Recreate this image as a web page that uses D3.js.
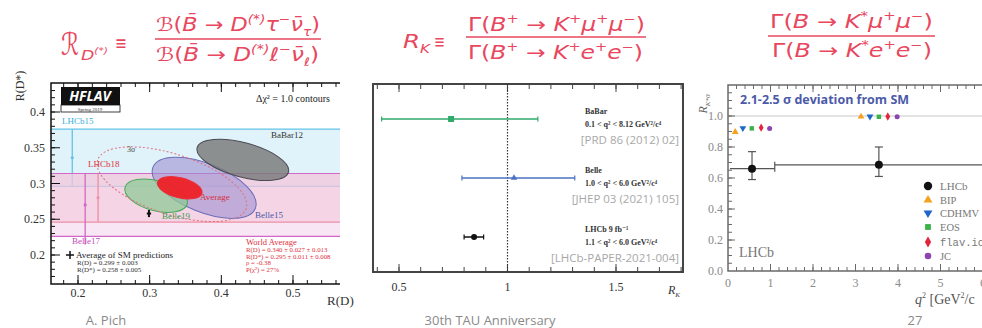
<!DOCTYPE html>
<html>
<head>
<meta charset="utf-8">
<script src="https://cdn.jsdelivr.net/npm/d3@7"></script>
<style>
  body { margin: 0; background: #fff; }
  svg { display: block; }
</style>
</head>
<body>
<div id="slide"></div>
<script>
// ---------- data ----------
// left: R(D) vs R(D*) (HFLAV spring 2019)
const rdTicks = [0.2, 0.3, 0.4, 0.5];
const rdsTicks = [0.2, 0.25, 0.3, 0.35, 0.4];
const bandNames = ["LHCb15", "LHCb18", "Belle17"];
const bandCenter = [0.336, 0.280, 0.270];
const bandErr = [0.040, 0.034, 0.044];
const bandRD = [0.192, 0.228, 0.210];      // x where the R(D*)-only result is drawn
const ellNames = ["Belle15", "Belle19", "BaBar12", "Average", "3σ"];
const ellRD = [0.376, 0.309, 0.430, 0.342, 0.331];
const ellRDs = [0.294, 0.283, 0.333, 0.294, 0.299];
const ellA = [0.077, 0.045, 0.066, 0.032, 0.109];
const ellB = [0.034, 0.021, 0.024, 0.014, 0.042];
const ellAngle = [22, 15, 15, 14, 18];
const smRD = 0.299, smRDerr = 0.003, smRDs = 0.258, smRDserr = 0.005;

// middle: R_K results
const rkTicks = [0.5, 1, 1.5];
const rkExp = ["BaBar", "Belle", "LHCb"];
const rkVal = [0.74, 1.03, 0.846];
const rkLo = [0.42, 0.79, 0.80];
const rkHi = [1.14, 1.31, 0.89];
const rkRange = ["0.1 < q² < 8.12 GeV²/c⁴", "1.0 < q² < 6.0 GeV²/c⁴", "1.1 < q² < 6.0 GeV²/c⁴"];
const rkRef = ["[PRD 86 (2012) 02]", "[JHEP 03 (2021) 105]", "[LHCb-PAPER-2021-004]"];

// right: R_K*0 vs q2
const q2Ticks = [0, 1, 2, 3, 4, 5, 6];
const rksTicks = [0, 0.2, 0.4, 0.6, 0.8, 1.0];
const binLo = [0.045, 1.1];
const binHi = [1.1, 6.0];
const lhcbQ2 = [0.565, 3.55];
const lhcbVal = [0.66, 0.685];
const lhcbUp = [0.11, 0.115];
const lhcbDn = [0.07, 0.075];
const smNames = ["BIP", "CDHMV", "EOS", "flav.io", "JC"];
const smQ2 = [[0.17, 0.35, 0.56, 0.78, 0.98], [3.13, 3.34, 3.55, 3.76, 3.98]];
const smVal = [[0.897, 0.922, 0.92, 0.925, 0.92], [0.996, 0.997, 0.995, 0.997, 0.995]];

// ---------- drawing ----------
const W = 982, H = 328;
const RED = "#e8475e";
const SERIF = "'Liberation Serif', 'DejaVu Serif', serif";
const SANS = "'Open Sans', 'DejaVu Sans', sans-serif";

const svg = d3.select("#slide").append("svg")
    .attr("width", W).attr("height", H)
    .style("background", "#fff");

// formula helper: segments [text, kind] with kind "", "i", "sup", "sub"
function mathLine(x, y, width, size, segs) {
    const t = svg.append("text")
        .attr("x", x).attr("y", y)
        .attr("font-size", size)
        .attr("font-family", "'DejaVu Sans', sans-serif")
        .attr("fill", RED);
    let shift = 0;
    segs.forEach(([s, kind]) => {
        const target = kind === "sup" ? -size * 0.42 : kind === "sub" ? size * 0.28 : 0;
        const ts = t.append("tspan").text(s).attr("dy", target - shift);
        shift = target;
        if (kind === "sup" || kind === "sub") ts.attr("font-size", size * 0.62);
        if (kind !== "") ts.attr("font-style", "italic");
    });
    t.attr("textLength", width).attr("lengthAdjust", "spacingAndGlyphs");
    return t;
}
function fracBar(x1, x2, y) {
    svg.append("line").attr("x1", x1).attr("x2", x2).attr("y1", y).attr("y2", y)
        .attr("stroke", RED).attr("stroke-width", 1.6);
}

// formula 1
mathLine(61, 55, 18, 31, [["ℛ", ""]]);
mathLine(81, 60, 27, 14, [["D", "i"], ["(*)", "sup"]]);
mathLine(115, 50, 12, 20, [["≡", ""]]);
mathLine(156, 31, 164, 19, [["ℬ(", ""], ["B̄", "i"], [" → ", ""], ["D", "i"], ["(*)", "sup"], ["τ", "i"], ["−", "sup"], ["ν̄", "i"], ["τ", "sub"], [")", ""]]);
fracBar(155, 321, 39);
mathLine(156, 61, 163, 19, [["ℬ(", ""], ["B̄", "i"], [" → ", ""], ["D", "i"], ["(*)", "sup"], ["ℓ", "i"], ["−", "sup"], ["ν̄", "i"], ["ℓ", "sub"], [")", ""]]);

// formula 2
mathLine(403, 48, 27, 19, [["R", "i"], ["K", "sub"]]);
mathLine(434, 48, 11, 19, [["≡", ""]]);
mathLine(468, 31, 177, 19, [["Γ(", ""], ["B", "i"], ["+", "sup"], [" → ", ""], ["K", "i"], ["+", "sup"], ["μ", "i"], ["+", "sup"], ["μ", "i"], ["−", "sup"], [")", ""]]);
fracBar(466, 646, 37);
mathLine(468, 59, 175, 19, [["Γ(", ""], ["B", "i"], ["+", "sup"], [" → ", ""], ["K", "i"], ["+", "sup"], ["e", "i"], ["+", "sup"], ["e", "i"], ["−", "sup"], [")", ""]]);

// formula 3
mathLine(770, 28, 163, 19, [["Γ(", ""], ["B", "i"], [" → ", ""], ["K", "i"], ["*", "sup"], ["μ", "i"], ["+", "sup"], ["μ", "i"], ["−", "sup"], [")", ""]]);
fracBar(768, 935, 36);
mathLine(772, 57, 160, 19, [["Γ(", ""], ["B", "i"], [" → ", ""], ["K", "i"], ["*", "sup"], ["e", "i"], ["+", "sup"], ["e", "i"], ["−", "sup"], [")", ""]]);

// generic inward ticks
function ticksX(g, scale, majors, minors, yTop, yBot, col, majLen, minLen, xMin, xMax) {
    const all = minors.map(v => [v, minLen]).concat(majors.map(v => [v, majLen]));
    all.forEach(([v, len]) => {
        const x = scale(v);
        if (x < xMin || x > xMax) return;
        g.append("line").attr("x1", x).attr("x2", x).attr("y1", yBot).attr("y2", yBot - len).attr("stroke", col);
        g.append("line").attr("x1", x).attr("x2", x).attr("y1", yTop).attr("y2", yTop + len).attr("stroke", col);
    });
}
function ticksY(g, scale, majors, minors, xLeft, xRight, col, majLen, minLen, yMin, yMax) {
    const all = minors.map(v => [v, minLen]).concat(majors.map(v => [v, majLen]));
    all.forEach(([v, len]) => {
        const y = scale(v);
        if (y < yMin || y > yMax) return;
        g.append("line").attr("x1", xLeft).attr("x2", xLeft + len).attr("y1", y).attr("y2", y).attr("stroke", col);
        if (xRight != null) g.append("line").attr("x1", xRight).attr("x2", xRight - len).attr("y1", y).attr("y2", y).attr("stroke", col);
    });
}

// ===== panel 1 =====
{
    const L = 51, R = 340, T = 83, B = 284;
    const x = d3.scaleLinear().domain([0.2, 0.5]).range([78, 293]);
    const y = d3.scaleLinear().domain([0.2, 0.4]).range([255, 112]);
    const g = svg.append("g");
    svg.append("clipPath").attr("id", "clip1").append("rect")
        .attr("x", L).attr("y", T).attr("width", R - L).attr("height", B - T);
    const c = g.append("g").attr("clip-path", "url(#clip1)");

    const bandFill = ["#c4e7f5", "#f4b9bf", "#f1cdec"];
    const bandLine = ["#62c3e6", "#e8505e", "#d268c6"];
    const bandLab = ["#3aaedb", "#e0303c", "#c04cb4"];
    bandNames.forEach((n, i) => {
        const y1 = y(bandCenter[i] + bandErr[i]), y2 = y(bandCenter[i] - bandErr[i]);
        c.append("rect").attr("x", L).attr("width", R - L).attr("y", y1).attr("height", y2 - y1)
            .attr("fill", bandFill[i]).attr("fill-opacity", 0.5);
        [y1, y2].forEach(yy => c.append("line").attr("x1", L).attr("x2", R).attr("y1", yy).attr("y2", yy)
            .attr("stroke", bandLine[i]).attr("stroke-width", 1.2));
        c.append("line").attr("x1", x(bandRD[i])).attr("x2", x(bandRD[i]))
            .attr("y1", y1).attr("y2", y2 + (i === 2 ? 8 : 0))
            .attr("stroke", bandLine[i]).attr("stroke-width", 1.3);
        c.append("circle").attr("cx", x(bandRD[i])).attr("cy", y(bandCenter[i])).attr("r", 1.6).attr("fill", bandLine[i]);
    });

    const eFill = ["#9d8fd0", "#8fca95", "#7c7c7c", "#ee2027", "none"];
    const eOp = [0.6, 0.75, 0.85, 0.95, 1];
    const eStroke = ["#6d6db8", "#48a85a", "#4a4a55", "#e8303a", "#e0707c"];
    ellNames.forEach((n, i) => {
        const cx = x(ellRD[i]), cy = y(ellRDs[i]);
        const rx = x(ellRD[i] + ellA[i]) - cx, ry = y(ellRDs[i] - ellB[i]) - cy;
        c.append("ellipse").attr("cx", cx).attr("cy", cy).attr("rx", rx).attr("ry", ry)
            .attr("transform", `rotate(${ellAngle[i]},${cx},${cy})`)
            .attr("fill", eFill[i]).attr("fill-opacity", eOp[i])
            .attr("stroke", eStroke[i]).attr("stroke-width", 1)
            .attr("stroke-dasharray", n === "3σ" ? "2,2" : null);
    });

    // SM average point
    c.append("line").attr("x1", x(smRD - smRDerr)).attr("x2", x(smRD + smRDerr))
        .attr("y1", y(smRDs)).attr("y2", y(smRDs)).attr("stroke", "#111").attr("stroke-width", 2);
    c.append("line").attr("x1", x(smRD)).attr("x2", x(smRD))
        .attr("y1", y(smRDs + smRDserr)).attr("y2", y(smRDs - smRDserr)).attr("stroke", "#111").attr("stroke-width", 2);

    // frame
    g.append("path").attr("d", `M${R},${T}H${L}V${B}H${R}`).attr("fill", "none").attr("stroke", "#111").attr("stroke-width", 1.5);
    ticksX(g, x, rdTicks, d3.range(0.16, 0.58, 0.02), T, B, "#111", 9, 4, L + 1, R);
    ticksY(g, y, rdsTicks, d3.range(0.16, 0.45, 0.01), L, null, "#111", 9, 4, T + 1, B - 1);

    rdTicks.forEach(v => g.append("text").attr("x", x(v)).attr("y", 297).attr("text-anchor", "middle")
        .attr("font-family", SERIF).attr("font-size", 12).attr("fill", "#333").text(v));
    rdsTicks.forEach(v => g.append("text").attr("x", 45).attr("y", y(v) + 4).attr("text-anchor", "end")
        .attr("font-family", SERIF).attr("font-size", 12).attr("fill", "#333").text(v));
    g.append("text").attr("transform", "translate(24,86) rotate(-90)").attr("text-anchor", "middle")
        .attr("font-family", SERIF).attr("font-size", 12).attr("fill", "#333").text("R(D*)");
    g.append("text").attr("x", 327).attr("y", 305)
        .attr("font-family", SERIF).attr("font-size", 13).attr("fill", "#333").text("R(D)");

    // HFLAV logo
    g.append("rect").attr("x", 61).attr("y", 87).attr("width", 59).attr("height", 18).attr("fill", "#111");
    g.append("text").attr("x", 90).attr("y", 101).attr("text-anchor", "middle").attr("font-family", SANS)
        .attr("font-style", "italic").attr("font-weight", "bold").attr("font-size", 14).attr("fill", "#fff").text("HFLAV");
    g.append("rect").attr("x", 61).attr("y", 105).attr("width", 59).attr("height", 7).attr("fill", "#fff").attr("stroke", "#111").attr("stroke-width", 0.8);
    g.append("text").attr("x", 90).attr("y", 110.5).attr("text-anchor", "middle").attr("font-family", SERIF)
        .attr("font-size", 5).attr("fill", "#333").text("Spring 2019");

    g.append("text").attr("x", 256).attr("y", 102).attr("font-family", SERIF).attr("font-size", 10).attr("fill", "#222")
        .text("Δχ² = 1.0 contours");

    const lab = (t, xx, yy, col, fs) => g.append("text").attr("x", xx).attr("y", yy).attr("font-family", SERIF)
        .attr("font-size", fs || 9).attr("fill", col).text(t);
    lab("LHCb15", 62, 124, bandLab[0]);
    lab("LHCb18", 88, 167, bandLab[1]);
    lab("Belle17", 72, 244, bandLab[2]);
    lab("BaBar12", 271, 138, "#333");
    lab("3σ", 127, 152, "#444", 8);
    lab("Average", 200, 200, "#d4303c");
    lab("Belle15", 255, 218, "#4a58a8");
    lab("Belle19", 162, 219, "#3a9a4a");

    // SM legend
    g.append("line").attr("x1", 66).attr("x2", 74).attr("y1", 255).attr("y2", 255).attr("stroke", "#111").attr("stroke-width", 1.5);
    g.append("line").attr("x1", 70).attr("x2", 70).attr("y1", 251).attr("y2", 259).attr("stroke", "#111").attr("stroke-width", 1.5);
    lab("Average of SM predictions", 76, 258, "#222", 9);
    lab(`R(D) = ${smRD} ± ${smRDerr}`, 77, 265, "#333", 7);
    lab(`R(D*) = ${smRDs} ± ${smRDserr}`, 77, 272, "#333", 7);

    lab("World Average", 246, 245, "#e0303c", 8.5);
    lab("R(D) = 0.340 ± 0.027 ± 0.013", 246, 252, "#e0303c", 6.8);
    lab("R(D*) = 0.295 ± 0.011 ± 0.008", 246, 259, "#e0303c", 6.8);
    lab("ρ = -0.38", 246, 265, "#e0303c", 6.8);
    lab("P(χ²) = 27%", 246, 272, "#e0303c", 6.8);
}

// ===== panel 2 =====
{
    const L = 373, R = 683, T = 84, B = 272;
    const x = d3.scaleLinear().domain([0.5, 1.5]).range([399, 616]);
    const rows = [119, 178, 237];
    const g = svg.append("g");
    g.append("rect").attr("x", L).attr("y", T).attr("width", R - L).attr("height", B - T)
        .attr("fill", "none").attr("stroke", "#444").attr("stroke-width", 2);
    ticksX(g, x, rkTicks, d3.range(0.4, 1.85, 0.1), T, B, "#444", 8, 5, L + 1, R - 1);
    g.append("line").attr("x1", x(1)).attr("x2", x(1)).attr("y1", T).attr("y2", B)
        .attr("stroke", "#333").attr("stroke-width", 1.2).attr("stroke-dasharray", "1.5,1.5");
    rkTicks.forEach(v => g.append("text").attr("x", x(v)).attr("y", 291).attr("text-anchor", "middle")
        .attr("font-family", SERIF).attr("font-size", 12).attr("fill", "#333").text(v));
    g.append("text").attr("x", 668).attr("y", 294).attr("font-family", SERIF).attr("font-style", "italic")
        .attr("font-size", 12).attr("fill", "#333").text("R").append("tspan").attr("font-size", 7).attr("dy", 3).text("K");

    const col = ["#2faa6b", "#4a72c2", "#111"];
    rkExp.forEach((n, i) => {
        const yy = rows[i];
        g.append("line").attr("x1", x(rkLo[i])).attr("x2", x(rkHi[i])).attr("y1", yy).attr("y2", yy)
            .attr("stroke", col[i]).attr("stroke-width", 1.5);
        [rkLo[i], rkHi[i]].forEach(v => g.append("line").attr("x1", x(v)).attr("x2", x(v))
            .attr("y1", yy - 2.5).attr("y2", yy + 2.5).attr("stroke", col[i]).attr("stroke-width", 1.2));
        if (i === 0) g.append("rect").attr("x", x(rkVal[i]) - 3).attr("y", yy - 3).attr("width", 6).attr("height", 6).attr("fill", col[i]);
        else if (i === 1) g.append("path").attr("d", d3.symbol(d3.symbolTriangle, 18)()).attr("transform", `translate(${x(rkVal[i])},${yy})`).attr("fill", col[i]);
        else g.append("circle").attr("cx", x(rkVal[i])).attr("cy", yy).attr("r", 3).attr("fill", col[i]);

        g.append("text").attr("x", 585).attr("y", yy - 5).attr("font-family", SERIF).attr("font-weight", "bold")
            .attr("font-size", 8).attr("fill", "#333").text(i === 2 ? "LHCb 9 fb⁻¹" : n);
        g.append("text").attr("x", 585).attr("y", yy + 8).attr("font-family", SERIF).attr("font-weight", "bold")
            .attr("font-size", 8).attr("fill", "#333").text(rkRange[i]);
        g.append("text").attr("x", 679).attr("y", yy + 25).attr("text-anchor", "end").attr("font-family", SANS)
            .attr("font-size", 11.5).attr("fill", "#a8a8a8").text(rkRef[i]);
    });
}

// ===== panel 3 =====
{
    const L = 728, R = 990, T = 85, B = 271;
    const x = d3.scaleLinear().domain([0, 1]).range([728, 770.5]);
    const y = d3.scaleLinear().domain([0, 1]).range([271, 116]);
    const g = svg.append("g");
    const AX = "#6a6a6a";
    g.append("line").attr("x1", L).attr("x2", R).attr("y1", y(1)).attr("y2", y(1)).attr("stroke", "#c8c8c8").attr("stroke-width", 1.2);

    // LHCb
    binLo.forEach((lo, i) => {
        g.append("line").attr("x1", x(lo)).attr("x2", x(binHi[i])).attr("y1", y(lhcbVal[i])).attr("y2", y(lhcbVal[i]))
            .attr("stroke", "#555").attr("stroke-width", 1.2);
        if (i > 0) g.append("line").attr("x1", x(lo)).attr("x2", x(lo)).attr("y1", y(lhcbVal[i]) - 3).attr("y2", y(lhcbVal[i - 1]) + 3)
            .attr("stroke", "#555").attr("stroke-width", 1.2);
        const xc = x(lhcbQ2[i]);
        g.append("line").attr("x1", xc).attr("x2", xc).attr("y1", y(lhcbVal[i] + lhcbUp[i])).attr("y2", y(lhcbVal[i] - lhcbDn[i]))
            .attr("stroke", "#555").attr("stroke-width", 1.2);
        [lhcbVal[i] + lhcbUp[i], lhcbVal[i] - lhcbDn[i]].forEach(v => g.append("line")
            .attr("x1", xc - 4).attr("x2", xc + 4).attr("y1", y(v)).attr("y2", y(v)).attr("stroke", "#555").attr("stroke-width", 1.2));
        g.append("circle").attr("cx", xc).attr("cy", y(lhcbVal[i])).attr("r", 4).attr("fill", "#111");
    });

    const smCol = ["#f4a21e", "#1f66c8", "#3bb24a", "#e2243c", "#8c44b0"];
    const smSym = [d3.symbolTriangle, d3.symbolTriangle, d3.symbolSquare, d3.symbolDiamond, d3.symbolCircle];
    const mark = (k, cx, cy, s) => g.append("path").attr("d", d3.symbol(smSym[k], s)())
        .attr("transform", `translate(${cx},${cy})${k === 1 ? " rotate(180)" : ""}`).attr("fill", smCol[k]);
    smQ2.forEach((row, b) => row.forEach((q, k) => mark(k, x(q), y(smVal[b][k]), 20)));

    // frame
    g.append("path").attr("d", `M${R},${T}H${L}V${B}H${R}`).attr("fill", "none").attr("stroke", AX).attr("stroke-width", 1.5);
    ticksX(g, x, q2Ticks, d3.range(0, 6.3, 0.2), T, B, AX, 7, 4, L + 1, R);
    ticksY(g, y, rksTicks, d3.range(0, 1.21, 0.05), L, null, AX, 7, 4, T + 1, B - 1);
    q2Ticks.forEach(v => g.append("text").attr("x", x(v)).attr("y", 287).attr("text-anchor", "middle")
        .attr("font-family", SERIF).attr("font-size", 12).attr("fill", "#8a8a8a").text(v));
    rksTicks.forEach(v => g.append("text").attr("x", 723).attr("y", y(v) + 4).attr("text-anchor", "end")
        .attr("font-family", SERIF).attr("font-size", 12).attr("fill", "#8a8a8a").text(v.toFixed(1)));
    const yl = g.append("text").attr("transform", "translate(707,104) rotate(-90)").attr("text-anchor", "middle")
        .attr("font-family", SERIF).attr("font-style", "italic").attr("font-size", 12).attr("fill", "#666");
    yl.append("tspan").text("R");
    yl.append("tspan").attr("font-size", 7).attr("dy", 3).text("K*0");
    const xl = g.append("text").attr("x", 915).attr("y", 304).attr("font-family", SERIF).attr("font-size", 14).attr("fill", "#555");
    xl.append("tspan").attr("font-style", "italic").text("q");
    xl.append("tspan").attr("font-size", 8).attr("dy", -6).text("2");
    xl.append("tspan").attr("dy", 6).text(" [GeV");
    xl.append("tspan").attr("font-size", 8).attr("dy", -6).text("2");
    xl.append("tspan").attr("dy", 6).text("/c");

    g.append("text").attr("x", 740).attr("y", 104).attr("font-family", SANS).attr("font-weight", "bold")
        .attr("font-size", 12.5).attr("fill", "#4b5aa8").text("2.1-2.5 σ deviation from SM");
    g.append("text").attr("x", 739).attr("y", 257).attr("font-family", SERIF).attr("font-size", 14)
        .attr("fill", "#777").text("LHCb");

    // legend
    const legY = [186, 200, 213, 227, 242, 256];
    g.append("circle").attr("cx", 928).attr("cy", legY[0]).attr("r", 4.2).attr("fill", "#111");
    g.append("text").attr("x", 940).attr("y", legY[0] + 4).attr("font-family", SERIF).attr("font-size", 11).attr("fill", "#777").text("LHCb");
    smNames.forEach((n, k) => {
        mark(k, 928, legY[k + 1], 34);
        g.append("text").attr("x", 940).attr("y", legY[k + 1] + 4)
            .attr("font-family", n === "flav.io" ? "'Liberation Mono', 'DejaVu Sans Mono', monospace" : SERIF)
            .attr("font-size", 10.5).attr("fill", "#777").text(n);
    });
}

// footer
const foot = [["A. Pich", 106], ["30th TAU Anniversary", 490], ["27", 915]];
foot.forEach(([t, fx]) => svg.append("text").attr("x", fx).attr("y", 325).attr("text-anchor", "middle")
    .attr("font-family", SANS).attr("font-size", 13).attr("fill", "#8a8a8a").text(t));
</script>
</body>
</html>
